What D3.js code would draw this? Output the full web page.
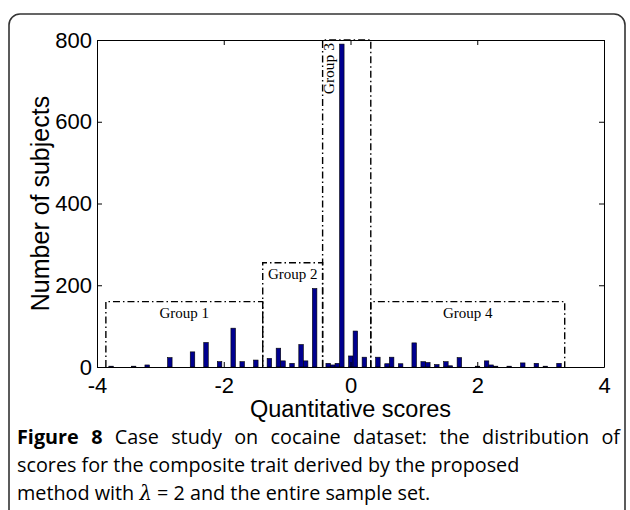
<!DOCTYPE html>
<html><head><meta charset="utf-8">
<script src="https://cdn.jsdelivr.net/npm/d3@7"></script>
<style>body{margin:0;background:#fff} svg{display:block}</style>
</head><body>
<svg id="c" width="630" height="510"></svg>
<script>
// Histogram bins (centre score) with non-zero counts
const scores = [-3.778,-3.422,-3.208,-2.851,-2.493,-2.280,-2.066,-1.851,-1.709,-1.494,
  -1.280,-1.137,-1.065,-0.923,-0.780,-0.708,-0.566,-0.352,-0.281,-0.208,-0.137,
  0.005,0.077,0.219,0.432,0.576,0.649,0.791,1.005,1.147,1.220,1.362,1.505,1.576,
  1.718,2.004,2.147,2.218,2.289,2.504,2.718,2.933,3.075,3.290];
const counts = [2,2,5,23,37,60,13,95,13,17,
  21,46,15,9,55,15,192,9,5,9,790,
  27,88,24,24,8,24,8,59,13,11,6,13,3,
  23,2,15,5,2,2,10,9,2,9];
const binWidth = 0.0714;
const xTicks = [-4,-2,0,2,4];
const yTicks = [0,200,400,600,800];
const groupNames = ["Group 1","Group 2","Group 3","Group 4"];
const groupStart = [-3.86,-1.385,-0.44,0.32];
const groupEnd = [-1.385,-0.44,0.32,3.38];
const groupHeight = [160,255,800,160];
const xTitle = "Quantitative scores";
const yTitle = "Number of subjects";

const svg = d3.select("#c");
svg.append("rect").attr("x",9).attr("y",14).attr("width",616).attr("height",530)
  .attr("rx",11).attr("fill","none").attr("stroke","#333").attr("stroke-width",1.6);

const m = {l:97, r:604, t:40, b:367};
const x = d3.scaleLinear().domain([-4,4]).range([m.l,m.r]);
const y = d3.scaleLinear().domain([0,800]).range([m.b,m.t]);

// bars
svg.append("g").selectAll("rect").data(scores).join("rect")
  .attr("x",(d)=>x(d-binWidth/2))
  .attr("width",(d)=>x(d+binWidth/2)-x(d-binWidth/2))
  .attr("y",(d,i)=>y(counts[i]))
  .attr("height",(d,i)=>y(0)-y(counts[i]))
  .attr("fill","#00008f").attr("stroke","#000").attr("stroke-width",0.6);

// axes
const fontAx = "'Liberation Sans', Arial, sans-serif";
const ax = (g)=>{g.select(".domain").attr("stroke","#000");
  g.selectAll(".tick line").attr("stroke","#000");
  g.selectAll("text").attr("font-family",fontAx).attr("font-size",22).attr("fill","#000");};
svg.append("g").attr("transform",`translate(0,${m.b})`)
  .call(d3.axisBottom(x).tickValues(xTicks).tickFormat(d=>String(d)).tickSizeInner(-5).tickSizeOuter(0).tickPadding(10)).call(ax);
svg.append("g").attr("transform",`translate(0,${m.t})`)
  .call(d3.axisTop(x).tickValues(xTicks).tickFormat("").tickSizeInner(-5).tickSizeOuter(0)).call(ax);
svg.append("g").attr("transform",`translate(${m.l},0)`)
  .call(d3.axisLeft(y).tickValues(yTicks).tickFormat(d=>String(d)).tickSizeInner(-5).tickSizeOuter(0).tickPadding(5)).call(ax);
svg.append("g").attr("transform",`translate(${m.r},0)`)
  .call(d3.axisRight(y).tickValues(yTicks).tickFormat("").tickSizeInner(-5).tickSizeOuter(0)).call(ax);

// group boxes
const gb = svg.append("g");
groupNames.forEach((name,i)=>{
  const x0=x(groupStart[i]), x1=x(groupEnd[i]), yt=y(groupHeight[i]), yb=y(0);
  gb.append("path").attr("d",`M${x0},${yb}V${yt}H${x1}V${yb}`)
    .attr("fill","none").attr("stroke","#000").attr("stroke-width",1.4)
    .attr("stroke-dasharray","7,3,1.5,3");
  if (x1-x0 < 55) {
    gb.append("text").attr("transform",`translate(${x0+11},${yt+3}) rotate(-90)`)
      .attr("text-anchor","end").attr("font-family","'Liberation Serif', 'Times New Roman', serif")
      .attr("font-size",15.5).text(name);
  } else {
    gb.append("text").attr("x",(x0+x1)/2).attr("y",yt+16).attr("text-anchor","middle")
      .attr("font-family","'Liberation Serif', 'Times New Roman', serif")
      .attr("font-size",15).text(name);
  }
});

// titles
svg.append("text").attr("x",(m.l+m.r)/2).attr("y",417).attr("text-anchor","middle")
  .attr("font-family",fontAx).attr("font-size",23.5).text(xTitle);
svg.append("text").attr("transform",`translate(49,${(m.t+m.b)/2}) rotate(-90)`).attr("text-anchor","middle")
  .attr("font-family",fontAx).attr("font-size",25).text(yTitle);

// caption
const capFont = "'Open Sans', 'Noto Sans', sans-serif";
const capSize = 19.8;
const c1 = svg.append("text").attr("x",17).attr("y",444).attr("font-family",capFont).attr("font-size",capSize);
c1.append("tspan").attr("font-weight","bold").text("Figure 8");
c1.append("tspan").text(" Case study on cocaine dataset: the distribution of");
const c2 = svg.append("text").attr("x",17).attr("y",472).attr("font-family",capFont).attr("font-size",capSize)
  .text("scores for the composite trait derived by the proposed");
const c3 = svg.append("text").attr("x",17).attr("y",500).attr("font-family",capFont).attr("font-size",capSize);
c3.append("tspan").text("method with ");
c3.append("tspan").attr("font-style","italic").attr("font-family","'DejaVu Serif', serif").text("λ");
c3.append("tspan").text(" = 2 and the entire sample set.");
// justify first line by word spacing
const len1 = c1.node().getComputedTextLength();
c1.attr("word-spacing",Math.max(0,(603-len1)/9));
</script>
</body></html>
